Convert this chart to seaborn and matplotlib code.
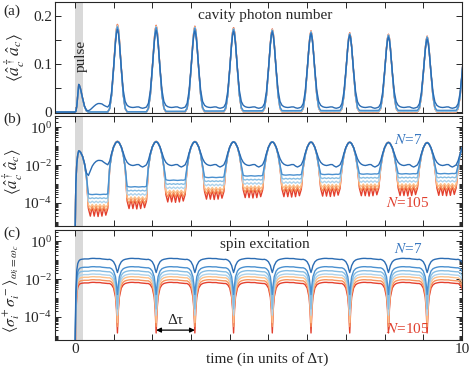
import numpy as np
import matplotlib
matplotlib.use('Agg')
import matplotlib.pyplot as plt
import matplotlib.ticker as mticker
import seaborn as sns
import warnings
warnings.filterwarnings('ignore')

sns.set_style('ticks')
plt.rcParams['font.family'] = ['Liberation Serif', 'DejaVu Serif']
plt.rcParams['mathtext.fontset'] = 'stix'
plt.rcParams['font.size'] = 11

# ── data ─────────────────────────────────────────────────
# curve order: N=7 (dark blue) ... N=105 (red)
labels_N = [7, 21, 35, 49, 63, 77, 105]
colors = ['#2b6cb3', '#4a90cf', '#86bde3', '#aed3ec', '#fdc08a', '#f6935c', '#e3402e']

# offsets inside one period, measured from a peak (in units of Δτ)
u = [0, 0.025, 0.05, 0.1, 0.15, 0.2, 0.25, 0.3, 0.35, 0.4, 0.45,
     0.5, 0.55, 0.6, 0.65, 0.7, 0.75, 0.8, 0.85, 0.9, 0.95, 0.975]
peak_times = [0.1, 1.1, 2.1, 3.1, 4.1, 5.1, 6.1, 7.1, 8.1, 9.1]

# cavity photon number: peak shape (fraction of peak height)
frac_fall = [1, 0.95, 0.83, 0.5, 0.2, 0.04, 0, 0, 0, 0, 0,
             0, 0, 0, 0, 0, 0, 0, 0, 0, 0, 0]
frac_rise = [0, 0, 0, 0, 0, 0, 0, 0, 0, 0, 0,
             0, 0, 0, 0, 0, 0, 0.04, 0.2, 0.5, 0.83, 0.95]

# peak heights (pulse at t=0.1, then t=1.1 ... 10.1)
peak_outer = [0.057, 0.183, 0.181, 0.179, 0.176, 0.173, 0.169, 0.165, 0.162, 0.158, 0.155]
peak_n7 = [0.057, 0.160, 0.158, 0.157, 0.156, 0.155, 0.151, 0.148, 0.144, 0.139, 0.136]
peak_factor = [None, 0.965, 0.975, 0.983, 0.99, 0.995, 1.0]

# background between peaks, log10, late periods
bg_log = [
    [-1.9, -1.9, -1.9, -1.9, -1.85, -1.8, -1.85, -1.95, -2.0, -2.02, -2.0,
     -1.97, -1.97, -2.05, -2.1, -2.05, -1.98, -1.92, -1.9, -1.9, -1.9, -1.9],
    [-2.4, -2.4, -2.4, -2.4, -2.4, -2.4, -2.42, -2.45, -2.46, -2.45, -2.44,
     -2.45, -2.46, -2.45, -2.44, -2.45, -2.42, -2.4, -2.4, -2.4, -2.4, -2.4],
    [-2.6, -2.6, -2.6, -2.6, -2.6, -2.6, -2.63, -2.67, -2.63, -2.67, -2.63,
     -2.67, -2.63, -2.67, -2.63, -2.67, -2.63, -2.6, -2.6, -2.6, -2.6, -2.6],
    [-2.8, -2.8, -2.8, -2.8, -2.8, -2.8, -2.82, -2.89, -2.81, -2.89, -2.81,
     -2.89, -2.81, -2.89, -2.81, -2.89, -2.82, -2.8, -2.8, -2.8, -2.8, -2.8],
    [-3.0, -3.0, -3.0, -3.0, -3.0, -3.0, -3.0, -3.12, -2.98, -3.12, -2.98,
     -3.12, -2.98, -3.12, -2.98, -3.12, -3.0, -3.0, -3.0, -3.0, -3.0, -3.0],
    [-3.1, -3.1, -3.1, -3.1, -3.1, -3.1, -3.12, -3.32, -3.08, -3.32, -3.08,
     -3.32, -3.08, -3.32, -3.08, -3.32, -3.12, -3.1, -3.1, -3.1, -3.1, -3.1],
    [-3.2, -3.2, -3.2, -3.2, -3.2, -3.2, -3.2, -3.6, -3.1, -3.6, -3.1,
     -3.62, -3.1, -3.6, -3.1, -3.55, -3.2, -3.2, -3.2, -3.2, -3.2, -3.2],
]
# N=7 background after the pulse (first period differs)
bg_n7_first = [-3.0, -3.0, -3.0, -3.0, -2.9, -2.8, -2.55, -2.3, -2.05, -1.9, -1.8,
               -1.75, -1.75, -1.77, -1.85, -1.92, -1.98, -2.0, -1.95, -1.9, -1.9, -1.9]
# the low curves sit lower in early periods (decades)
bg_lift = [-1.1, -0.7, -0.35, -0.2, -0.12, -0.07, -0.04, -0.02, -0.01, 0.0]
lift_scale = [0, 1, 1, 1, 1, 1, 1]

# before / during the rise of the pulse
t_pre = [-0.5, 0.0, 0.025, 0.05, 0.075]
photon_pre = [0.0, 1e-7, 0.001, 0.012, 0.035]

# spin excitation: plateau (log10) and dips at every photon peak
spin_plateau = [-0.93, -1.37, -1.58, -1.76, -1.9, -2.06, -2.2]
spin_dip = [
    [-0.72, -0.55, -0.35, -0.15, -0.06, -0.02],
    [-1.45, -0.9, -0.5, -0.2, -0.08, -0.03],
    [-2.0, -1.1, -0.6, -0.22, -0.09, -0.03],
    [-2.15, -1.2, -0.65, -0.24, -0.1, -0.03],
    [-2.4, -1.3, -0.7, -0.25, -0.1, -0.03],
    [-2.45, -1.35, -0.72, -0.26, -0.1, -0.03],
    [-2.65, -1.4, -0.75, -0.27, -0.1, -0.03],
]
spin_wobble = [0.0, 0.02, 0.03, 0.03, 0.02, 0.02, 0.02, 0.0, -0.01, -0.02, -0.03]
spin_rise = [-0.12, -0.06, -0.03, -0.01, 0.0, 0.0]
spin_pre = [np.nan, -5.5, -1.8, -0.6, -0.25]

# ── assemble the curves ──────────────────────────────────
u = np.array(u)
t = np.concatenate([t_pre] + [pt + u for pt in peak_times])

photon = []
spin = []
for c in range(7):
    heights = peak_n7 if c == 0 else [p * peak_factor[c] for p in peak_outer]
    parts = [np.array(photon_pre)]
    sparts = [np.array(spin_pre)]
    dip_end = spin_dip[c][5:0:-1]
    for k in range(len(peak_times)):
        bg = bg_n7_first if (c == 0 and k == 0) else bg_log[c]
        seg = (np.array(frac_fall) * heights[k] + np.array(frac_rise) * heights[k + 1]
               + 10 ** (np.array(bg) + bg_lift[k] * lift_scale[c]))
        parts.append(seg)
        start = spin_rise if k == 0 else spin_dip[c]
        sparts.append(np.array(start + spin_wobble + dip_end))
    photon.append(np.concatenate(parts))
    spin.append(10 ** (spin_plateau[c] + np.concatenate(sparts)))

# ── figure ───────────────────────────────────────────────
fig = plt.figure(figsize=(4.71, 3.68), dpi=100)
L, W = 0.1178, 0.8631
ax_a = fig.add_axes([L, 0.6929, W, 0.3016])
ax_b = fig.add_axes([L, 0.3859, W, 0.2989])
ax_c = fig.add_axes([L, 0.0761, W, 0.2989])

for c in range(6, -1, -1):
    sns.lineplot(x=t, y=photon[c], ax=ax_a, color=colors[c], lw=1.0,
                 estimator=None, sort=False)
    pos = np.where(photon[c] > 0, photon[c], np.nan)
    ax_b.plot(t, pos, color=colors[c], lw=1.0)
    ax_c.plot(t, spin[c], color=colors[c], lw=1.0)

for ax in (ax_a, ax_b, ax_c):
    ax.axvspan(0, 0.21, color='#d9d9d9', lw=0, zorder=0)
    ax.set_xlim(-0.5, 10)
    ax.xaxis.set_major_locator(mticker.MultipleLocator(1))
    ax.tick_params(which='both', direction='in', top=True, right=True,
                   width=0.7, labelsize=11, pad=2.5)
    ax.tick_params(which='major', length=4)
    ax.tick_params(which='minor', length=2)
    for s in ax.spines.values():
        s.set_visible(True)
        s.set_linewidth(0.8)
    ax.set_ylabel('')
    ax.set_xlabel('')

ax_a.set_ylim(-0.002, 0.23)
ax_a.yaxis.set_major_locator(mticker.MultipleLocator(0.05))
ax_a.yaxis.set_major_formatter(mticker.FuncFormatter(
    lambda v, p: {0: '0', 10: '0.1', 20: '0.2'}.get(int(round(v * 100)), '')))

for ax in (ax_b, ax_c):
    ax.set_yscale('log')
    ax.set_ylim(6e-6, 4)
    ax.yaxis.set_major_locator(mticker.FixedLocator([1, 1e-2, 1e-4]))
    ax.yaxis.set_minor_locator(mticker.LogLocator(base=10, subs=np.arange(1, 10), numticks=20))
    ax.yaxis.set_minor_formatter(mticker.NullFormatter())
    ax.yaxis.set_major_formatter(mticker.LogFormatterSciNotation())

for ax in (ax_a, ax_b):
    ax.set_xticklabels([])
ax_c.xaxis.set_major_formatter(mticker.FuncFormatter(
    lambda v, p: {0: '0', 10: '10'}.get(int(round(v)), '')))

ax_a.set_ylabel(r'$\langle \hat{a}_c^\dagger \hat{a}_c \rangle$', fontsize=12.5)
ax_b.set_ylabel(r'$\langle \hat{a}_c^\dagger \hat{a}_c \rangle$', fontsize=12)
ax_c.set_ylabel(r'$\langle \sigma_i^+ \sigma_i^- \rangle_{\omega_i=\omega_c}$', fontsize=11.5)
ax_a.yaxis.set_label_coords(-0.07, 0.5)
ax_b.yaxis.set_label_coords(-0.074, 0.5)
ax_c.yaxis.set_label_coords(-0.082, 0.47)
ax_c.set_xlabel('time (in units of Δτ)', fontsize=11, labelpad=-3)
ax_c.xaxis.label.set_x(0.52)

# annotations
ax_a.text(0.515, 0.88, 'cavity photon number', transform=ax_a.transAxes,
          ha='center', va='center', fontsize=11)
ax_a.text(0.155, 0.118, 'pulse', rotation=90, ha='center', va='center', fontsize=11)
ax_c.text(0.515, 0.87, 'spin excitation', transform=ax_c.transAxes,
          ha='center', va='center', fontsize=11)

ax_b.text(8.6, 0.22, r'$N$=7', color='#3a78c0', ha='center', va='center', fontsize=11)
ax_b.text(8.6, 1e-4, r'$N$=105', color='#e0402f', ha='center', va='center', fontsize=11)
ax_c.text(8.6, 0.41, r'$N$=7', color='#3a78c0', ha='center', va='center', fontsize=11)
ax_c.text(8.6, 2.2e-5, r'$N$=105', color='#e0402f', ha='center', va='center', fontsize=11)

ax_c.annotate('', xy=(3.1, 2e-5), xytext=(2.1, 2e-5),
              arrowprops=dict(arrowstyle='<|-|>', color='black', lw=0.9,
                              mutation_scale=7, shrinkA=0, shrinkB=0))
ax_c.text(2.6, 6.6e-5, 'Δτ', ha='center', va='center', fontsize=11)

fig.text(0.008, 0.969, '(a)', ha='left', va='center', fontsize=11)
fig.text(0.008, 0.677, '(b)', ha='left', va='center', fontsize=11)
fig.text(0.008, 0.366, '(c)', ha='left', va='center', fontsize=11)

fig.savefig('out.png', dpi=100)
